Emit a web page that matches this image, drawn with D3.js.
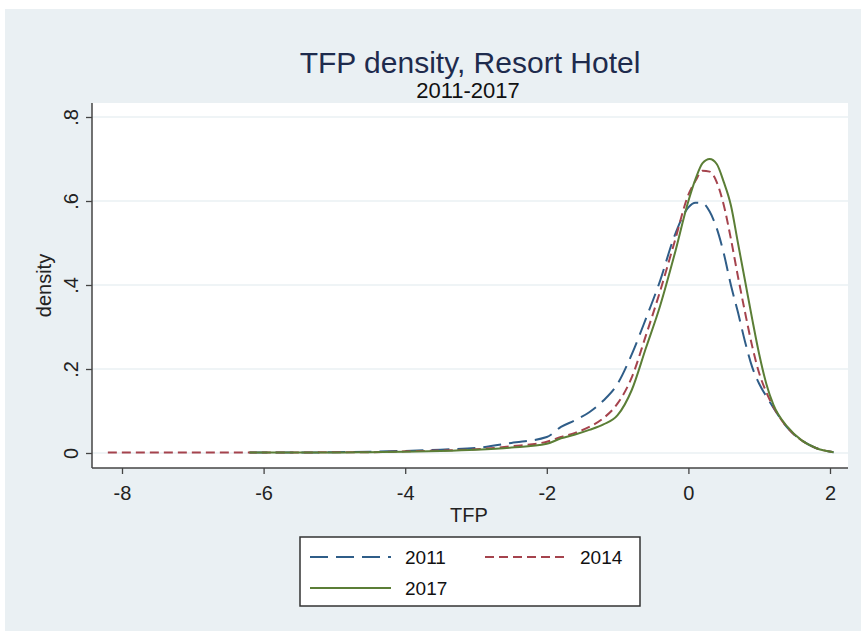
<!DOCTYPE html>
<meta charset="UTF-8">
<script src="https://d3js.org/d3.v7.min.js"></script>
<style>
  body { margin: 0; background: #fff; }
  text { font-family: "Liberation Sans", Arial, sans-serif; }
</style>
<body>
<div id="mysvg"></div>
<script>

// values
var years = ["2011", "2014", "2017"];
var xTicks = [-8, -6, -4, -2, 0, 2];
var yTicks = [0, 0.2, 0.4, 0.6, 0.8];

var tfp = [-8.2, -7, -6.2, -5.5, -5, -4.5, -4, -3.5, -3, -2.5, -2, -1.8, -1.6, -1.4, -1.2,
  -1.0, -0.8, -0.6, -0.4, -0.2, 0, 0.1, 0.2, 0.3, 0.4, 0.5, 0.6, 0.7, 0.8, 0.9, 1.0,
  1.1, 1.2, 1.4, 1.6, 1.8, 2.05];

var d2011 = [null, null, 0.001, 0.001, 0.002, 0.003, 0.005, 0.008, 0.012, 0.024, 0.038, 0.062, 0.078, 0.097, 0.125,
  0.165, 0.235, 0.32, 0.41, 0.515, 0.585, 0.596, 0.595, 0.575, 0.535, 0.475, 0.40, 0.335, 0.265, 0.205, 0.165,
  0.135, 0.108, 0.06, 0.03, 0.012, 0.002];

var d2014 = [0.001, 0.001, 0.001, 0.001, 0.002, 0.002, 0.004, 0.006, 0.009, 0.016, 0.027, 0.038, 0.048, 0.062, 0.083,
  0.118, 0.18, 0.28, 0.385, 0.50, 0.615, 0.648, 0.672, 0.67, 0.645, 0.59, 0.51, 0.42, 0.335, 0.255, 0.19,
  0.145, 0.11, 0.06, 0.03, 0.012, 0.002];

var d2017 = [null, null, 0.001, 0.001, 0.001, 0.002, 0.003, 0.005, 0.008, 0.013, 0.022, 0.035, 0.044, 0.055, 0.068,
  0.09, 0.15, 0.25, 0.35, 0.47, 0.60, 0.652, 0.69, 0.70, 0.688, 0.645, 0.59, 0.50, 0.41, 0.32, 0.235,
  0.165, 0.115, 0.062, 0.03, 0.012, 0.002];

var series = [
  {name: years[0], vals: d2011, color: "#2f5d88", dash: "18,8"},
  {name: years[1], vals: d2014, color: "#a5434d", dash: "9,5"},
  {name: years[2], vals: d2017, color: "#5b7e36", dash: null}
];

var width = 861, height = 631;

var svg = d3.select("#mysvg")
  .append("svg")
    .attr("width", width)
    .attr("height", height);

// graph region
svg.append("rect")
  .attr("x", 5).attr("y", 9)
  .attr("width", width - 5).attr("height", height - 9)
  .attr("fill", "#eaf0f3");

// plot region
var pLeft = 92, pRight = 848, pTop = 103, pBottom = 468;
svg.append("rect")
  .attr("x", pLeft).attr("y", pTop)
  .attr("width", pRight - pLeft).attr("height", pBottom - pTop)
  .attr("fill", "#fff");

var x = d3.scaleLinear()
  .domain([-8, 2])
  .range([122, 830]);

var y = d3.scaleLinear()
  .domain([0, 0.8])
  .range([453, 117]);

// grid
svg.append("g")
  .selectAll("line")
  .data(yTicks)
  .enter()
  .append("line")
    .attr("x1", pLeft).attr("x2", pRight)
    .attr("y1", function (d) { return y(d); })
    .attr("y2", function (d) { return y(d); })
    .attr("stroke", "#eaf0f3")
    .attr("stroke-width", 1.5);

// y axis
var yAxis = svg.append("g")
  .attr("transform", "translate(" + pLeft + ",0)")
  .call(d3.axisLeft(y)
    .tickValues(yTicks)
    .tickSize(6)
    .tickSizeOuter(0)
    .tickFormat(function (d) { return d === 0 ? "0" : d3.format(".1f")(d).replace(/^0/, ""); }));
yAxis.select(".domain").remove();
yAxis.selectAll(".tick line").attr("stroke", "#444").attr("stroke-width", 1.3);
yAxis.selectAll(".tick text")
  .attr("transform", "rotate(-90)")
  .attr("x", 0).attr("y", -14).attr("dy", 0)
  .attr("text-anchor", "middle")
  .attr("font-size", 20)
  .attr("fill", "#222");

// x axis
var xAxis = svg.append("g")
  .attr("transform", "translate(0," + pBottom + ")")
  .call(d3.axisBottom(x)
    .tickValues(xTicks)
    .tickSize(6)
    .tickSizeOuter(0)
    .tickFormat(function (d) { return String(d); }));
xAxis.select(".domain").remove();
xAxis.selectAll(".tick line").attr("stroke", "#444").attr("stroke-width", 1.3);
xAxis.selectAll(".tick text")
  .attr("y", 32).attr("dy", 0)
  .attr("font-size", 20)
  .attr("fill", "#222");

// axis lines
svg.append("line")
  .attr("x1", pLeft).attr("x2", pLeft).attr("y1", pTop).attr("y2", pBottom)
  .attr("stroke", "#444").attr("stroke-width", 1.5);
svg.append("line")
  .attr("x1", pLeft).attr("x2", pRight).attr("y1", pBottom).attr("y2", pBottom)
  .attr("stroke", "#444").attr("stroke-width", 1.5);

// axis titles
svg.append("text")
  .attr("x", 469).attr("y", 522)
  .attr("text-anchor", "middle")
  .attr("font-size", 20)
  .attr("fill", "#222")
  .text("TFP");

svg.append("text")
  .attr("transform", "translate(51," + ((pTop + pBottom) / 2) + ") rotate(-90)")
  .attr("text-anchor", "middle")
  .attr("font-size", 20)
  .attr("fill", "#222")
  .text("density");

// titles
svg.append("text")
  .attr("x", 470).attr("y", 73)
  .attr("text-anchor", "middle")
  .attr("font-size", 30)
  .attr("fill", "#1e2b4d")
  .text("TFP density, Resort Hotel");

svg.append("text")
  .attr("x", 468).attr("y", 98)
  .attr("text-anchor", "middle")
  .attr("font-size", 22)
  .attr("fill", "#111")
  .text("2011-2017");

// density curves
var line = d3.line()
  .defined(function (d) { return d[1] !== null; })
  .x(function (d) { return x(d[0]); })
  .y(function (d) { return y(d[1]); })
  .curve(d3.curveMonotoneX);

svg.append("g")
  .selectAll("path")
  .data(series)
  .enter()
  .append("path")
    .attr("d", function (s) { return line(tfp.map(function (t, i) { return [t, s.vals[i]]; })); })
    .attr("fill", "none")
    .attr("stroke", function (s) { return s.color; })
    .attr("stroke-width", 2)
    .attr("stroke-dasharray", function (s) { return s.dash; });

// legend
var legend = svg.append("g");
legend.append("rect")
  .attr("x", 300).attr("y", 537)
  .attr("width", 340).attr("height", 69)
  .attr("fill", "#fff")
  .attr("stroke", "#333")
  .attr("stroke-width", 1.5);

var legPos = [[310, 557], [485, 557], [310, 588]];
var items = legend.selectAll("g.item")
  .data(series)
  .enter()
  .append("g")
    .attr("class", "item")
    .attr("transform", function (s, i) { return "translate(" + legPos[i][0] + "," + legPos[i][1] + ")"; });

items.append("line")
  .attr("x1", 0).attr("x2", 81)
  .attr("stroke", function (s) { return s.color; })
  .attr("stroke-width", 2)
  .attr("stroke-dasharray", function (s) { return s.dash; });

items.append("text")
  .attr("x", 95).attr("y", 7)
  .attr("font-size", 19)
  .attr("fill", "#111")
  .text(function (s) { return s.name; });

</script>
</body>
